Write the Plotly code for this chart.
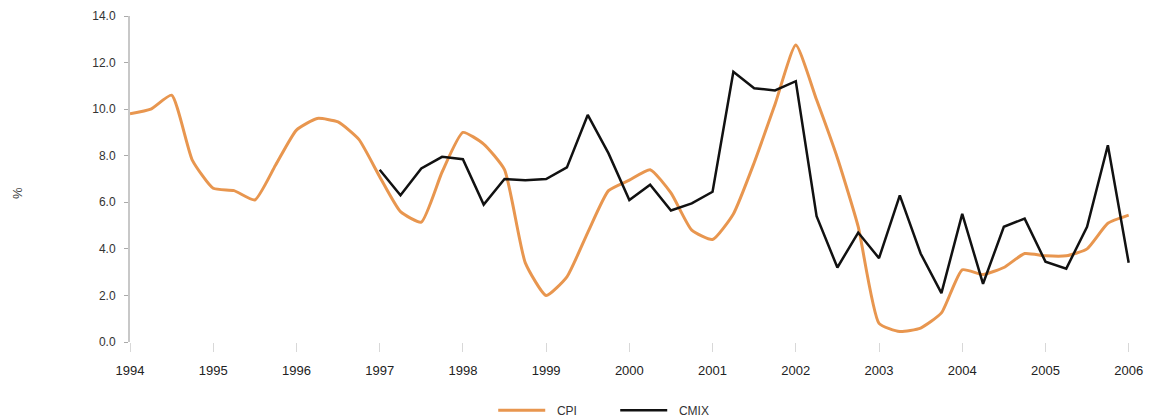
import plotly.graph_objects as go

# Quarterly observations
cpi_start = (1994, 1)
cpi = [9.8, 10.0, 10.6, 7.8,
       6.6, 6.5, 6.1, 7.6,
       9.1, 9.6, 9.45, 8.7,
       7.1, 5.6, 5.15, 7.3,
       9.0, 8.5, 7.4, 3.4,
       2.0, 2.8, 4.7, 6.5,
       6.95, 7.4, 6.4, 4.8,
       4.4, 5.5, 7.7, 10.2,
       12.75, 10.4, 7.9, 4.95,
       0.8, 0.45, 0.6, 1.25,
       3.1, 2.9, 3.2, 3.8,
       3.7, 3.7, 4.0, 5.1,
       5.45]

cmix_start = (1997, 1)
cmix = [7.4, 6.3, 7.45, 7.95,
        7.85, 5.9, 7.0, 6.95,
        7.0, 7.5, 9.75, 8.1,
        6.1, 6.75, 5.65, 5.95,
        6.45, 11.6, 10.9, 10.8,
        11.2, 5.4, 3.2, 4.7,
        3.6, 6.3, 3.8, 2.1,
        5.5, 2.5, 4.95, 5.3,
        3.45, 3.15, 4.95, 8.45,
        3.4]

year_ticks = list(range(1994, 2007))
y_ticks = [0, 2, 4, 6, 8, 10, 12, 14]


def quarter_axis(start, n):
    y0, q0 = start
    return [y0 + (q0 - 1 + i) / 4 for i in range(n)]


fig = go.Figure()
fig.add_trace(go.Scatter(
    x=quarter_axis(cpi_start, len(cpi)), y=cpi, name="\u00a0\u00a0CPI", mode="lines",
    line=dict(color="#E8964F", width=3, shape="spline", smoothing=0.5)))
fig.add_trace(go.Scatter(
    x=quarter_axis(cmix_start, len(cmix)), y=cmix, name="\u00a0\u00a0CMIX", mode="lines",
    line=dict(color="#111111", width=2.5)))

fig.update_layout(
    width=1154, height=420,
    margin=dict(l=122, r=25, t=8, b=86, autoexpand=False),
    paper_bgcolor="white", plot_bgcolor="white",
    font=dict(family="Liberation Sans, Arial, sans-serif", size=12, color="#333333"),
    showlegend=True,
    legend=dict(orientation="h", x=0.3607, xanchor="left", y=-0.165, yanchor="top",
                font=dict(size=12, color="#333333"), itemwidth=47, entrywidth=60),
    annotations=[dict(text="%", xref="paper", yref="paper",
                      x=-0.1123, y=0.457, xanchor="center", yanchor="middle",
                      showarrow=False, textangle=-90,
                      font=dict(size=13, color="#444444"))],
)
fig.update_xaxes(
    range=[1994, 2006.1], tickvals=year_ticks, ticktext=[str(y) for y in year_ticks],
    showgrid=False, zeroline=False, showline=False,
    ticks="outside", ticklen=9, tickcolor="#d8d8d8", tickwidth=1,
    ticklabelstandoff=7, tickfont=dict(size=13, color="#222222"))
fig.update_yaxes(
    range=[0, 14], tickvals=y_ticks, tickformat=".1f",
    showgrid=False, zeroline=False,
    showline=True, linecolor="#c8c8c8", linewidth=2,
    ticks="outside", ticklen=4, tickcolor="#aaaaaa",
    ticklabelstandoff=6, tickfont=dict(size=12, color="#333333"))

fig.write_html("out.html")
